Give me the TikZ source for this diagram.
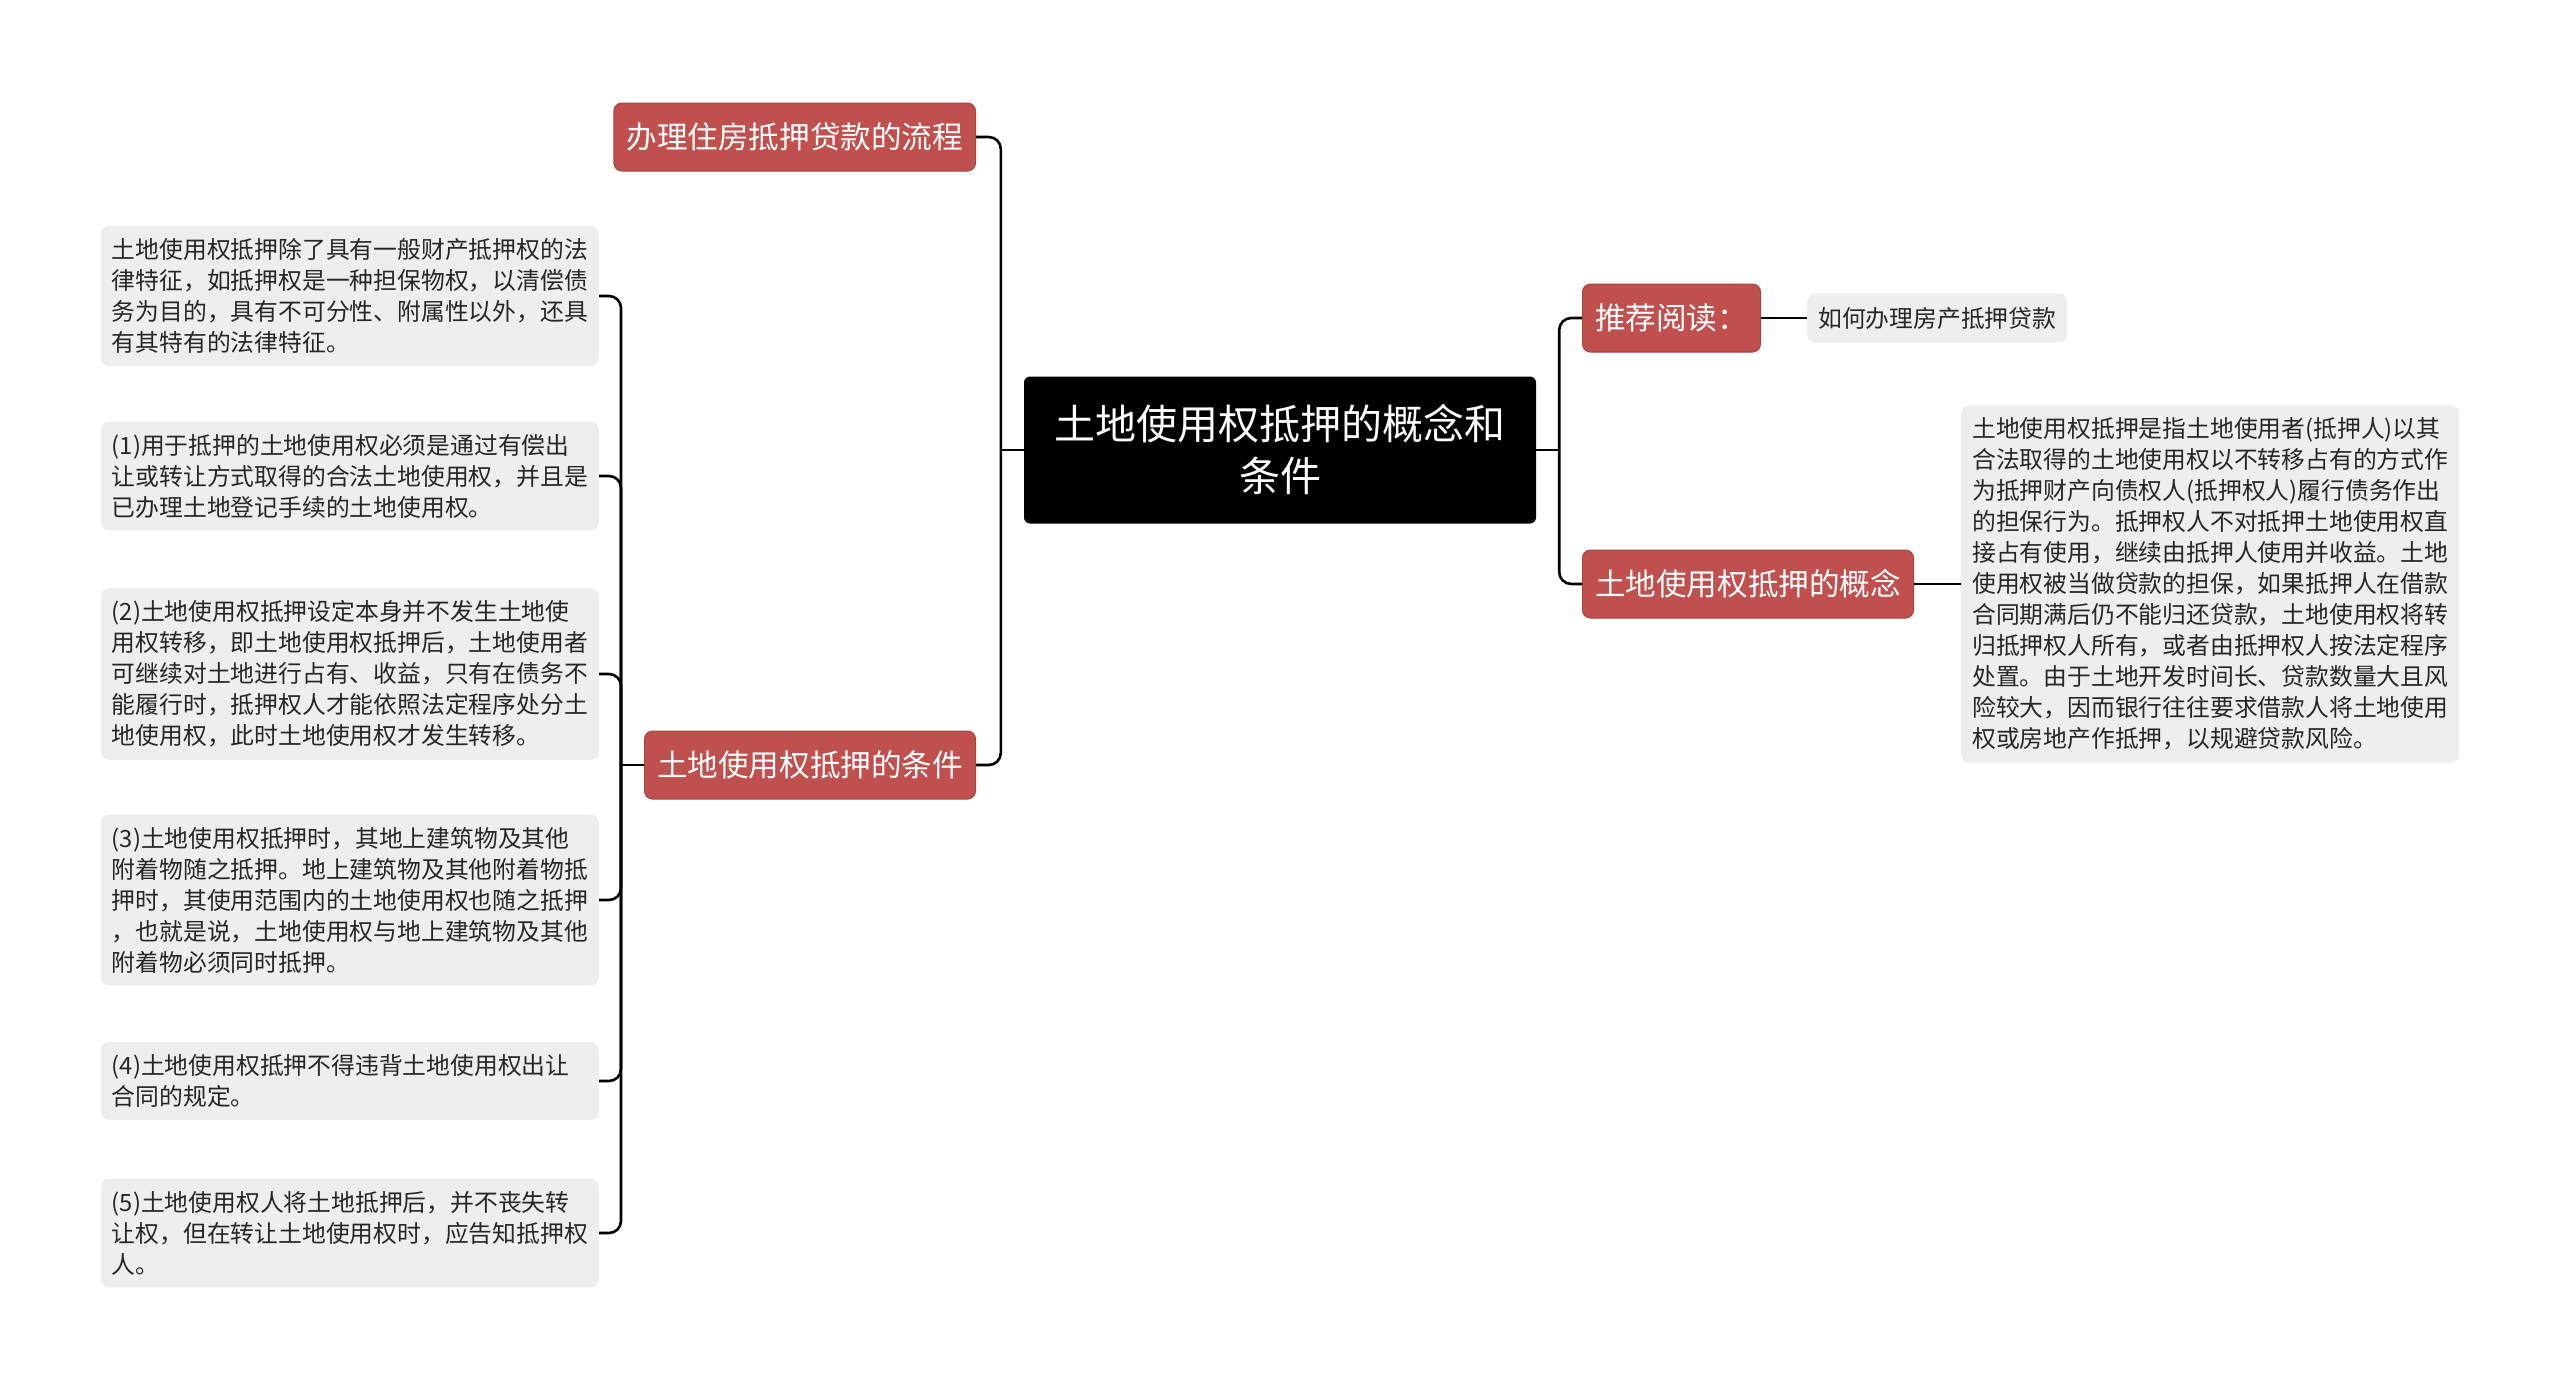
\documentclass[tikz,border=0pt]{standalone}
\usepackage{fontspec}
\setmainfont{Noto Sans CJK SC}
\usepackage{tikz}
\usetikzlibrary{positioning, calc}
\definecolor{branchred}{HTML}{C0504D}
\definecolor{leafgray}{HTML}{EEEEEE}

\begin{document}
\begin{tikzpicture}[
    x=1pt, y=-1pt,
    rootbox/.style={rectangle, rounded corners=6pt, fill=black, text=white, minimum width=512pt, minimum height=147pt, align=center, font=\fontsize{41}{52}\selectfont},
    branchbox/.style={rectangle, rounded corners=8pt, fill=branchred, draw=branchred!85!black, line width=1pt, text=white, inner xsep=12.5pt, minimum height=68pt, font=\fontsize{30.6}{36}\selectfont},
    leafbox/.style={rectangle, rounded corners=8pt, fill=leafgray, text=black!85, inner xsep=11pt, inner ysep=12.5pt, align=left, text width=#1, font=\fontsize{23.8}{31}\selectfont},
    leafbox/.default=476pt,
    link/.style={line width=2.6pt, rounded corners=12pt}
]
\useasboundingbox (0,0) rectangle (2560,1392);

% centre
\node[rootbox] (root) at (1280,450) {土地使用权抵押的概念和\\条件};

% left side
\node[branchbox, anchor=east] (flow) at (976,137) {办理住房抵押贷款的流程};
\node[branchbox, anchor=east] (cond) at (976,765) {土地使用权抵押的条件};

\node[leafbox, anchor=east] (leaf1) at (599,296) {土地使用权抵押除了具有一般财产抵押权的法\\律特征，如抵押权是一种担保物权，以清偿债\\务为目的，具有不可分性、附属性以外，还具\\有其特有的法律特征。};
\node[leafbox, anchor=east] (leaf2) at (599,476) {(1)用于抵押的土地使用权必须是通过有偿出\\让或转让方式取得的合法土地使用权，并且是\\已办理土地登记手续的土地使用权。};
\node[leafbox, anchor=east] (leaf3) at (599,674) {(2)土地使用权抵押设定本身并不发生土地使\\用权转移，即土地使用权抵押后，土地使用者\\可继续对土地进行占有、收益，只有在债务不\\能履行时，抵押权人才能依照法定程序处分土\\地使用权，此时土地使用权才发生转移。};
\node[leafbox, anchor=east] (leaf4) at (599,900) {(3)土地使用权抵押时，其地上建筑物及其他\\附着物随之抵押。地上建筑物及其他附着物抵\\押时，其使用范围内的土地使用权也随之抵押\\，也就是说，土地使用权与地上建筑物及其他\\附着物必须同时抵押。};
\node[leafbox, anchor=east] (leaf5) at (599,1081) {(4)土地使用权抵押不得违背土地使用权出让\\合同的规定。};
\node[leafbox, anchor=east] (leaf6) at (599,1233) {(5)土地使用权人将土地抵押后，并不丧失转\\让权，但在转让土地使用权时，应告知抵押权\\人。};

% right side
\node[branchbox, anchor=west] (read) at (1582,318) {推荐阅读：};
\node[branchbox, anchor=west] (concept) at (1582,584) {土地使用权抵押的概念};
\node[leafbox=238pt, anchor=west, minimum height=49pt, inner ysep=10pt] (howto) at (1807,318) {如何办理房产抵押贷款};
\node[leafbox, anchor=west] (define) at (1961,584) {土地使用权抵押是指土地使用者(抵押人)以其\\合法取得的土地使用权以不转移占有的方式作\\为抵押财产向债权人(抵押权人)履行债务作出\\的担保行为。抵押权人不对抵押土地使用权直\\接占有使用，继续由抵押人使用并收益。土地\\使用权被当做贷款的担保，如果抵押人在借款\\合同期满后仍不能归还贷款，土地使用权将转\\归抵押权人所有，或者由抵押权人按法定程序\\处置。由于土地开发时间长、贷款数量大且风\\险较大，因而银行往往要求借款人将土地使用\\权或房地产作抵押，以规避贷款风险。};

% connectors
\coordinate (ltrunk) at ($(root.west)+(-23,0)$);
\coordinate (rtrunk) at ($(root.east)+(23,0)$);
\coordinate (ctrunk) at ($(cond.west)+(-23,0)$);
\draw[link] (root.west) -- (ltrunk);
\draw[link] (root.east) -- (rtrunk);
\foreach \b in {flow, cond}
  \draw[link] (ltrunk) |- (\b.east);
\foreach \b in {read, concept}
  \draw[link] (rtrunk) |- (\b.west);
\draw[link] (cond.west) -- (ctrunk);
\foreach \k in {1,...,6}
  \draw[link] (ctrunk) |- (leaf\k.east);
\draw[link] (read.east) -- (howto.west);
\draw[link] (concept.east) -- (define.west);
\end{tikzpicture}
\end{document}
